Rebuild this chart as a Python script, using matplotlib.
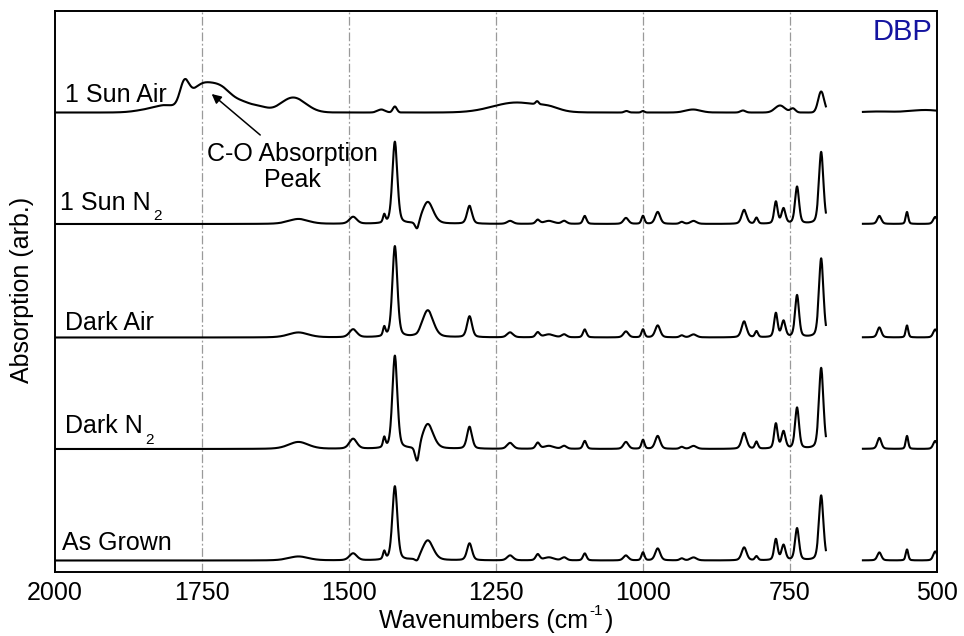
import numpy as np
import matplotlib
matplotlib.use("Agg")
import matplotlib.pyplot as plt

plt.rcParams["font.family"] = ["Liberation Sans", "DejaVu Sans"]

# ---- band tables (wavenumber in cm^-1, height and FWHM) ----
band_centers = [1586, 1493, 1440, 1422, 1384, 1366, 1295, 1226, 1179, 1160, 1134,
                1099, 1029, 1000, 975, 934, 914, 828, 807, 774, 761, 738, 697,
                598, 551, 503]
band_widths = [40, 15, 5, 10, 8, 22, 10, 12, 8, 20, 10,
               7, 10, 6, 10, 8, 12, 10, 6, 7, 8, 8, 9,
               8, 5, 8]

sun_n2_heights = [5, 7, 8, 82, -9, 22, 18, 3, 4, 3, 3,
                  8, 6, 8, 12, 2, 3, 14, 6, 22, 15, 37, 72,
                  8, 12, 7]
dark_air_heights = [5, 8, 9, 91, -1, 27, 21, 5, 5, 3, 3,
                    8, 6, 8, 12, 2, 3, 16, 6, 24, 16, 42, 79,
                    10, 12, 8]
dark_n2_heights = [7, 10, 10, 93, -17, 25, 22, 6, 6, 3, 3,
                   8, 7, 9, 13, 2, 3, 16, 7, 25, 17, 41, 81,
                   11, 13, 8]
grown_heights = [4, 7, 8, 74, -4, 20, 17, 5, 6, 3, 3,
                 7, 5, 8, 12, 2, 3, 13, 4, 21, 15, 32, 65,
                 8, 11, 9]

sun_air_centers = [1830, 1810, 1780, 1750, 1715, 1680, 1650, 1595, 1445, 1422,
                   1215, 1160, 1180, 1028, 1000, 915, 830, 767, 745, 697,
                   600, 520]
sun_air_widths = [60, 35, 18, 50, 40, 40, 30, 50, 15, 8,
                  95, 40, 6, 8, 6, 30, 10, 20, 10, 12,
                  60, 60]
sun_air_heights = [4, 4, 22, 27, 18, 9, 4, 15, 3, 6,
                   10, 3, 3, 1.5, 1.5, 3, 2, 7, 4, 21,
                   1, 2.5]

# vertical offsets of the stacked traces
offsets = {"1 Sun Air": 459, "1 Sun N2": 347.5, "Dark Air": 234,
           "Dark N2": 122.5, "As Grown": 11}

# measured range (no data recorded between these limits)
gap_hi, gap_lo = 689, 626
grid_lines = [1750, 1500, 1250, 1000, 750]
xticks = [2000, 1750, 1500, 1250, 1000, 750, 500]


def spectrum(wn, centers, heights, widths, eta):
    y = np.zeros_like(wn)
    for c, h, w in zip(centers, heights, widths):
        g = np.exp(-4 * np.log(2) * ((wn - c) / w) ** 2)
        lor = 1.0 / (1.0 + 4 * ((wn - c) / w) ** 2)
        y += h * ((1 - eta) * g + eta * lor)
    return y


wn = np.arange(500.0, 2000.5, 0.5)
missing = (wn < gap_hi) & (wn > gap_lo)

traces = {
    "1 Sun Air": spectrum(wn, sun_air_centers, sun_air_heights, sun_air_widths, 0.0),
    "1 Sun N2": spectrum(wn, band_centers, sun_n2_heights, band_widths, 0.35),
    "Dark Air": spectrum(wn, band_centers, dark_air_heights, band_widths, 0.35),
    "Dark N2": spectrum(wn, band_centers, dark_n2_heights, band_widths, 0.35),
    "As Grown": spectrum(wn, band_centers, grown_heights, band_widths, 0.35),
}

fig = plt.figure(figsize=(9.64, 6.36), dpi=100)
ax = fig.add_axes([55 / 964, 1 - 571.5 / 636, 882 / 964, 560.5 / 636])

for x in grid_lines:
    ax.axvline(x, color="#9a9a9a", lw=0.9, ls=(0, (7, 2, 1.5, 2)), zorder=1)

for name, y in traces.items():
    yy = y + offsets[name]
    yy[missing] = np.nan
    ax.plot(wn, yy, color="black", lw=1.5, zorder=3)

ax.set_xlim(2000, 500)
ax.set_ylim(0, 560.5)
ax.set_xticks(xticks)
ax.set_xticklabels([str(t) for t in xticks])
ax.set_yticks([])
ax.tick_params(axis="x", length=0, pad=7, labelsize=18)
for s in ax.spines.values():
    s.set_linewidth(1.4)

fs = 18
sub_fs = 11
renderer = fig.canvas.get_renderer()
to_data = ax.transData.inverted()


def label_with_subscript(x, y, main, sub):
    t = ax.text(x, y, main, fontsize=fs, va="baseline")
    bb = t.get_window_extent(renderer)
    x_end = to_data.transform((bb.x1, bb.y0))[0]
    ax.text(x_end - 4, y + 0.5, sub, fontsize=sub_fs, va="top", ha="left")


ax.text(1983, 469.8, "1 Sun Air", fontsize=fs, va="baseline")
label_with_subscript(1991, 361.5, "1 Sun N", "2")
ax.text(1983, 241, "Dark Air", fontsize=fs, va="baseline")
label_with_subscript(1983, 138.2, "Dark N", "2")
ax.text(1988, 21.5, "As Grown", fontsize=fs, va="baseline")

ax.text(1597, 410.8, "C-O Absorption", fontsize=fs, ha="center", va="baseline")
ax.text(1597, 384.8, "Peak", fontsize=fs, ha="center", va="baseline")
ax.annotate("", xy=(1733.5, 477.5), xytext=(1651, 436.5),
            arrowprops=dict(arrowstyle="-|>", color="black", lw=1.1,
                            mutation_scale=14, shrinkA=0, shrinkB=0))

ax.text(508, 531.5, "DBP", fontsize=21, color="#1414a0", ha="right", va="baseline")

# x-axis title built from pieces so the exponent sits high like a superscript
base_y = 1 - 628 / 636
parts = [("Wavenumbers (cm", fs, 0), ("-1", sub_fs, 13), (")", fs, 0)]
widths_px = []
for txt, size, _ in parts:
    tmp = fig.text(0, 0, txt, fontsize=size)
    widths_px.append(tmp.get_window_extent(renderer).width)
    tmp.remove()
gap_px = 1.5
total = sum(widths_px) + gap_px * (len(parts) - 1)
x_px = 496 - total / 2
for (txt, size, rise), w in zip(parts, widths_px):
    fig.text(x_px / 964, base_y + rise / 636, txt, fontsize=size,
             ha="left", va="baseline")
    x_px += w + gap_px

fig.text(22 / 964, 1 - 290 / 636, "Absorption (arb.)", fontsize=fs,
         ha="center", va="center", rotation=90)

fig.savefig("out.png", dpi=100)
